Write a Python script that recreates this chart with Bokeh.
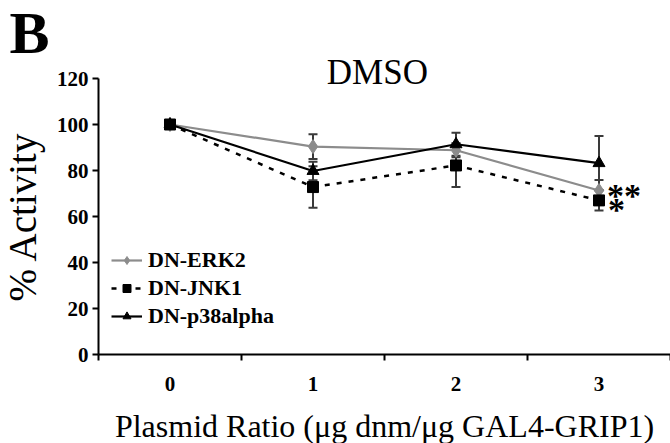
from bokeh.plotting import figure
from bokeh.models import (ColumnDataSource, Whisker, TeeHead, FixedTicker, Label,
                          Legend, LegendItem, Range1d)
from bokeh.embed import file_html
from bokeh.resources import INLINE

# ---- data ----
ratios = [0, 1, 2, 3]
tick_labels = ["0", "1", "2", "3"]
erk2 = [100, 90.4, 88.8, 71.3]
erk2_err = [0, 5.4, 3.0, 4.6]
jnk1 = [100, 72.8, 82.2, 67.0]
jnk1_err = [0, 9.0, 9.4, 4.4]
p38 = [100, 79.8, 91.4, 83.2]
p38_err = [0, 4.0, 5.0, 11.8]
y_ticks = [0, 20, 40, 60, 80, 100, 120]

SERIF = "Liberation Serif"

W, H = 670, 443
# frame spans the whole canvas; axes are drawn at fixed data locations
X0, X1 = -0.5 - 98 / 143.0, 3.5
Y0, Y1 = -(H - 354) / 2.3, 354 / 2.3

p = figure(width=W, height=H, output_backend="svg", toolbar_location=None,
           x_range=Range1d(X0, X1), y_range=Range1d(Y0, Y1),
           min_border_left=0, min_border_right=0, min_border_top=0,
           min_border_bottom=0)
p.outline_line_color = None
p.grid.visible = False
p.background_fill_color = "white"
p.border_fill_color = "white"

# axes
xa = p.xaxis[0]
xa.fixed_location = 0
xa.bounds = (-0.5, 3.5)
xa.ticker = FixedTicker(ticks=ratios, minor_ticks=[-0.5, 0.5, 1.5, 2.5, 3.5])
xa.major_label_overrides = {r: t for r, t in zip(ratios, tick_labels)}
xa.major_tick_line_color = None
xa.minor_tick_line_color = "black"
xa.minor_tick_line_width = 2
xa.minor_tick_out = 6
xa.minor_tick_in = 0
xa.axis_line_width = 2
xa.axis_line_color = "black"
xa.major_label_text_font = SERIF
xa.major_label_text_font_style = "bold"
xa.major_label_text_font_size = "21px"
xa.major_label_text_color = "black"
xa.major_label_standoff = 16
xa.axis_label = "Plasmid Ratio (μg dnm/μg GAL4-GRIP1)"
xa.axis_label_text_font = SERIF
xa.axis_label_text_font_style = "normal"
xa.axis_label_text_font_size = "32px"
xa.axis_label_text_color = "black"
xa.axis_label_standoff = 14

ya = p.yaxis[0]
ya.fixed_location = -0.5
ya.bounds = (0, 120)
ya.ticker = FixedTicker(ticks=y_ticks, minor_ticks=[])
ya.major_tick_line_color = "black"
ya.major_tick_line_width = 2
ya.major_tick_out = 6
ya.major_tick_in = 0
ya.axis_line_width = 2
ya.axis_line_color = "black"
ya.major_label_text_font = SERIF
ya.major_label_text_font_style = "bold"
ya.major_label_text_font_size = "21px"
ya.major_label_text_color = "black"
ya.major_label_standoff = 4
ya.axis_label = "% Activity"
ya.axis_label_text_font = SERIF
ya.axis_label_text_font_style = "normal"
ya.axis_label_text_font_size = "39px"
ya.axis_label_text_color = "black"
ya.axis_label_standoff = 10

# error bars
def add_err(vals, errs):
    src = ColumnDataSource(dict(x=ratios,
                                lo=[v - e for v, e in zip(vals, errs)],
                                hi=[v + e for v, e in zip(vals, errs)]))
    w = Whisker(source=src, base="x", lower="lo", upper="hi",
                line_color="#3a3a3a", line_width=2,
                upper_head=TeeHead(size=9, line_color="#3a3a3a", line_width=2),
                lower_head=TeeHead(size=9, line_color="#3a3a3a", line_width=2))
    p.add_layout(w)

add_err(erk2, erk2_err)
add_err(jnk1, jnk1_err)
add_err(p38, p38_err)

# series
src_e = ColumnDataSource(dict(x=ratios, y=erk2))
src_j = ColumnDataSource(dict(x=ratios, y=jnk1))
src_p = ColumnDataSource(dict(x=ratios, y=p38))

le = p.line("x", "y", source=src_e, line_color="#8c8c8c", line_width=2.2)
me = p.scatter("x", "y", source=src_e, marker="diamond", size=14,
               fill_color="#8c8c8c", line_color="#8c8c8c")
lj = p.line("x", "y", source=src_j, line_color="black", line_width=2.5,
            line_dash="5 7")
mj = p.scatter("x", "y", source=src_j, marker="square", size=11,
               fill_color="black", line_color="black")
lp = p.line("x", "y", source=src_p, line_color="black", line_width=2.2)
mp = p.scatter("x", "y", source=src_p, marker="triangle", size=12,
               fill_color="black", line_color="black")

legend = Legend(items=[
    LegendItem(label="DN-ERK2", renderers=[le, me]),
    LegendItem(label="DN-JNK1", renderers=[lj, mj]),
    LegendItem(label="DN-p38alpha", renderers=[lp, mp]),
], location=(111, 114))
legend.background_fill_alpha = 0
legend.border_line_color = None
legend.label_text_font = SERIF
legend.label_text_font_style = "bold"
legend.label_text_font_size = "22px"
legend.label_text_color = "black"
legend.glyph_width = 31
legend.spacing = 2
legend.label_standoff = 6
legend.padding = 2
p.add_layout(legend)

# texts
p.add_layout(Label(x=1.45, y=122.7, text="DMSO", text_font=SERIF,
                   text_font_size="35px", text_align="center",
                   text_baseline="alphabetic", text_color="black"))
p.add_layout(Label(x=X0, y=139.8, text="B", text_font=SERIF,
                   text_font_style="bold", text_font_size="60px",
                   text_align="left", text_baseline="alphabetic",
                   x_offset=9, text_color="black"))
p.add_layout(Label(x=3, y=erk2[3], text="**", text_font=SERIF,
                   text_font_style="bold", text_font_size="34px",
                   text_align="left", text_baseline="middle",
                   x_offset=8, y_offset=-5, text_color="black"))
p.add_layout(Label(x=3, y=jnk1[3], text="*", text_font=SERIF,
                   text_font_style="bold", text_font_size="34px",
                   text_align="left", text_baseline="middle",
                   x_offset=9, y_offset=-9, text_color="black"))

open("out.html", "w").write(file_html(p, INLINE))
